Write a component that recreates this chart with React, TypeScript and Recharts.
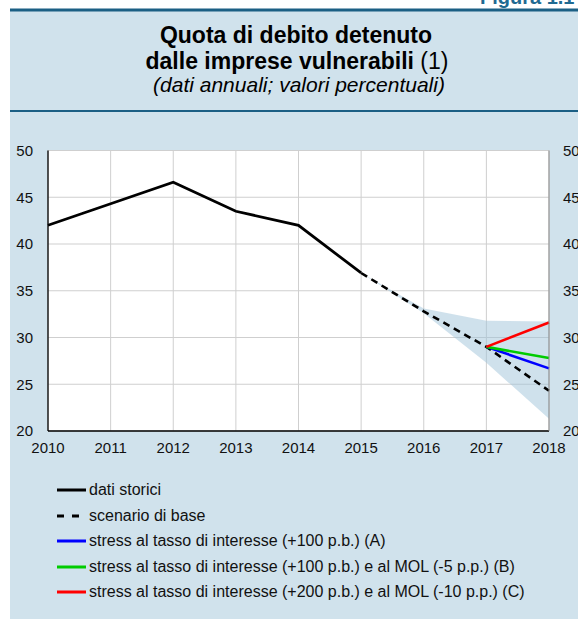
import React from "react";
import { ComposedChart, Line, Area, XAxis, YAxis, CartesianGrid } from "recharts";

const years = [2010, 2011, 2012, 2013, 2014, 2015, 2016, 2017, 2018];
const storici = [42.0, 44.3, 46.6, 43.5, 42.0, 36.9, null, null, null];
const base = [null, null, null, null, null, 36.9, 32.8, 29.0, 24.3];
const stressA = [null, null, null, null, null, null, null, 29.0, 26.7];
const stressB = [null, null, null, null, null, null, null, 29.0, 27.8];
const stressC = [null, null, null, null, null, null, null, 29.0, 31.6];
const bandLow = [null, null, null, null, null, 36.9, 32.6, 27.3, 21.3];
const bandHigh = [null, null, null, null, null, 36.9, 33.1, 31.8, 31.7];
const yTicks = [20, 25, 30, 35, 40, 45, 50];

const titleLine1 = "Quota di debito detenuto";
const titleLine2 = "dalle imprese vulnerabili";
const titleNote = " (1)";
const subtitle = "(dati annuali; valori percentuali)";
const figureLabel = "Figura 1.1";

const series = [
  { key: "storici", label: "dati storici", color: "#000000", dash: undefined as string | undefined },
  { key: "base", label: "scenario di base", color: "#000000", dash: "7 5" },
  { key: "stressA", label: "stress al tasso di interesse (+100 p.b.) (A)", color: "#0000ff", dash: undefined },
  { key: "stressB", label: "stress al tasso di interesse (+100 p.b.) e al MOL (-5 p.p.) (B)", color: "#00cc00", dash: undefined },
  { key: "stressC", label: "stress al tasso di interesse (+200 p.b.) e al MOL (-10 p.p.) (C)", color: "#ff0000", dash: undefined },
];

const data = years.map((y, i) => ({
  year: y,
  storici: storici[i],
  base: base[i],
  stressA: stressA[i],
  stressB: stressB[i],
  stressC: stressC[i],
  band: bandLow[i] !== null && bandHigh[i] !== null ? [bandLow[i], bandHigh[i]] : null,
}));

const FONT = "'Liberation Sans', Arial, Helvetica, sans-serif";
const PANEL = "#d0e2ec";
const TEAL = "#1b5f84";

export default function App() {
  return (
    <div
      style={{
        position: "absolute",
        left: 0,
        top: 0,
        width: 578,
        height: 619,
        background: "#ffffff",
        overflow: "hidden",
        fontFamily: FONT,
      }}
    >
      <div style={{ position: "absolute", left: 10, top: 10, width: 600, height: 640, background: PANEL }} />
      <svg style={{ position: "absolute", left: 0, top: 0 }} width={578} height={619}>
        <text x={480} y={4} fontFamily={FONT} fontWeight="bold" fontSize={20} fill="#1f6a92">
          {figureLabel}
        </text>
        <rect x={10} y={8.5} width={600} height={3} fill={TEAL} />
        <rect x={10} y={110} width={600} height={2} fill={TEAL} />
        <text x={296} y={43} textAnchor="middle" fontFamily={FONT} fontWeight="bold" fontSize={23} fill="#000">
          {titleLine1}
        </text>
        <text x={297} y={69} textAnchor="middle" fontFamily={FONT} fontSize={23} fill="#000">
          <tspan fontWeight="bold">{titleLine2}</tspan>
          <tspan>{titleNote}</tspan>
        </text>
        <text x={299} y={92} textAnchor="middle" fontFamily={FONT} fontStyle="italic" fontSize={21} fill="#000">
          {subtitle}
        </text>
      </svg>
      <div style={{ position: "absolute", left: 0, top: 0 }}>
        <ComposedChart
          width={578}
          height={619}
          data={data}
          margin={{ top: 150.5, right: 28, bottom: 187, left: 47 }}
        >
          <CartesianGrid stroke="#cfcfcf" strokeWidth={1} fill="#ffffff" />
          <XAxis
            dataKey="year"
            type="number"
            domain={[2010, 2018]}
            ticks={years}
            allowDecimals={false}
            height={1}
            tickSize={0}
            tickMargin={11}
            axisLine={{ stroke: "#000", strokeWidth: 1.5 }}
            tick={{ fill: "#111", fontSize: 15, fontFamily: FONT }}
            interval={0}
          />
          <YAxis
            domain={[20, 50]}
            ticks={yTicks}
            width={1}
            tickSize={0}
            tickMargin={15}
            axisLine={{ stroke: "#000", strokeWidth: 1.3 }}
            tick={{ fill: "#111", fontSize: 15, fontFamily: FONT }}
            interval={0}
          />
          <YAxis
            yAxisId="right"
            orientation="right"
            domain={[20, 50]}
            ticks={yTicks}
            width={1}
            tickSize={0}
            tickMargin={14}
            axisLine={{ stroke: "#8a8a8a", strokeWidth: 1 }}
            tick={{ fill: "#111", fontSize: 15, fontFamily: FONT }}
            interval={0}
          />
          <Area
            yAxisId="right"
            type="linear"
            dataKey="band"
            stroke="none"
            fill="#9fc3d9"
            fillOpacity={0.5}
            isAnimationActive={false}
            connectNulls={false}
            activeDot={false}
          />
          {series.map((s) => (
            <Line
              key={s.key}
              type="linear"
              dataKey={s.key}
              stroke={s.color}
              strokeWidth={s.key === "storici" ? 2.8 : 2.6}
              strokeDasharray={s.dash}
              dot={false}
              activeDot={false}
              isAnimationActive={false}
              connectNulls={false}
            />
          ))}
        </ComposedChart>
      </div>
      <div style={{ position: "absolute", left: 57, top: 478 }}>
        {series.map((s, i) => (
          <div
            key={s.key}
            style={{
              position: "absolute",
              left: 0,
              top: i * 25.5,
              height: 24,
              width: 480,
              display: "flex",
              alignItems: "center",
              whiteSpace: "nowrap",
            }}
          >
            <svg width={32} height={24} style={{ flex: "none" }}>
              <line
                x1={0}
                y1={12}
                x2={s.dash ? 22 : 29}
                y2={12}
                stroke={s.color}
                strokeWidth={3}
                strokeDasharray={s.dash ? "7 8" : undefined}
              />
            </svg>
            <span style={{ fontSize: 16, color: "#111", fontFamily: FONT, lineHeight: "24px" }}>{s.label}</span>
          </div>
        ))}
      </div>
    </div>
  );
}
